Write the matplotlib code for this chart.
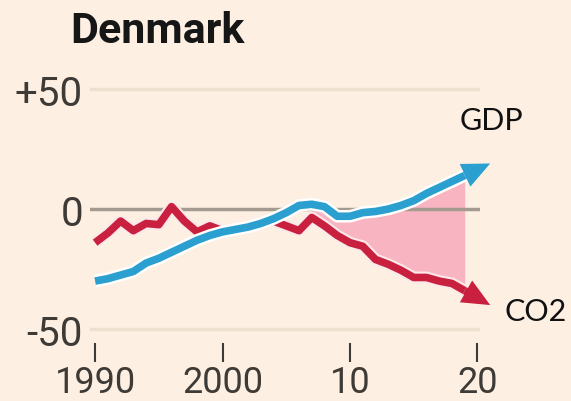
import numpy as np
import matplotlib.pyplot as plt
import matplotlib.patheffects as pe

# % change since 1990
years = np.arange(1990, 2020)
gdp = [-30, -29, -27.5, -26, -22.5, -20.5, -18, -15.5, -13, -11,
       -9.5, -8.5, -7.5, -6, -4, -1.5, 1.5, 2, 1, -3,
       -3, -1.5, -1, 0, 1.5, 3.5, 6.5, 9, 11.5, 14]
co2 = [-14, -10, -5, -9, -6, -6.5, 1, -5, -9.5, -7,
       -9, -8.5, -7.5, -6, -5, -7, -9, -3.5, -7, -11,
       -14, -15.5, -21, -23, -25.5, -28.5, -28.5, -30, -31, -34]
yticks = [50, 0, -50]
ytick_labels = ['+50', '0', '-50']
xticks = [1990, 2000, 2010, 2020]
xtick_labels = ['1990', '2000', '10', '20']

bg = '#fdf0e3'
blue = '#2b9fcf'
red = '#c8203e'
pink = '#f9b4c2'

gdp = np.array(gdp)
co2 = np.array(co2)

fig = plt.figure(figsize=(5.71, 4.02), dpi=100, facecolor=bg)
ax = fig.add_axes([90 / 571, 1 - 344 / 402, 390 / 571, 259 / 402])
ax.set_facecolor(bg)
ax.set_xlim(1989.6, 2020.2)
ax.set_ylim(-55.8, 52.1)

# gridlines
for v in yticks:
    if v == 0:
        ax.axhline(v, color='#a59a8f', lw=2.5, zorder=2)
    else:
        ax.axhline(v, color='#eedfcf', lw=2.5, zorder=2)

# shaded gap once GDP pulls away from emissions
ax.fill_between(years, gdp, co2, where=(gdp >= co2) & (years >= 2007),
                interpolate=True, color=pink, lw=0, zorder=1)

halo = [pe.Stroke(linewidth=8.5, foreground='#fbe9ea'), pe.Normal()]
ax.plot(years, co2, color=red, lw=5.5, solid_capstyle='butt',
        solid_joinstyle='round', path_effects=halo, zorder=3, clip_on=False)
halo_b = [pe.Stroke(linewidth=9, foreground='white'), pe.Normal()]
ax.plot(years, gdp, color=blue, lw=5.5, solid_capstyle='butt',
        solid_joinstyle='round', path_effects=halo_b, zorder=4, clip_on=False)

# arrow heads continuing the last segment
for ys, col, z in [(co2, red, 3), (gdp, blue, 4)]:
    last = (years[-1], ys[-1])
    tip = (years[-1] + 2, ys[-1] + 2 * (ys[-1] - ys[-2]))
    ax.annotate('', xy=tip, xytext=last, annotation_clip=False, zorder=z,
                arrowprops=dict(arrowstyle='simple,head_length=1.0,head_width=0.9,tail_width=0.275',
                                mutation_scale=20, lw=0, color=col,
                                shrinkA=0, shrinkB=0))

ax.text(2021.1, 37, 'GDP', fontsize=22, family=['Lato', 'DejaVu Sans'],
        ha='center', va='center', color='#111111', clip_on=False)
ax.text(2024.6, -42.5, 'CO2', fontsize=22, family=['Lato', 'DejaVu Sans'],
        ha='center', va='center', color='#111111', clip_on=False)

for s in ax.spines.values():
    s.set_visible(False)
ax.set_yticks(yticks)
ax.set_yticklabels(ytick_labels, fontsize=29, family=['Roboto', 'DejaVu Sans'],
                   color='#3e3a36')
ax.tick_params(axis='y', length=0, pad=5)
ax.set_xticks(xticks)
ax.set_xticklabels(xtick_labels, fontsize=26, family=['Roboto', 'DejaVu Sans'],
                   color='#3e3a36')
ax.tick_params(axis='x', length=14, width=1.5, color='#3e3a36', pad=1)

fig.text(70 / 571, 1 - 43 / 402, 'Denmark', fontsize=31, fontweight='bold',
         family=['Roboto', 'DejaVu Sans'], color='#161616', va='baseline')

fig.savefig('out.png', dpi=100, facecolor=bg)
